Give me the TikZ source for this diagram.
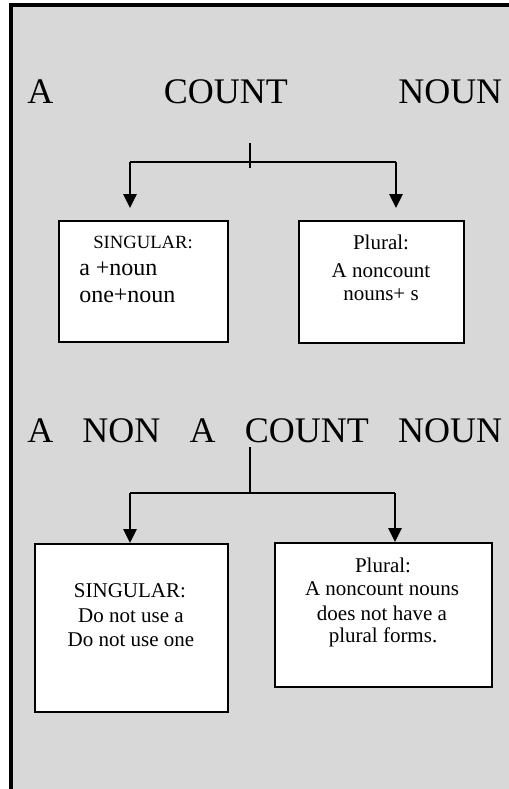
\documentclass[tikz,border=0pt]{standalone}
\usepackage{fontspec}
\setmainfont{Liberation Serif}
\usetikzlibrary{arrows.meta}
\definecolor{bggray}{RGB}{216,216,216}
\tikzset{
  box/.style={draw=black, fill=white, line width=1.5pt, anchor=north west, inner sep=0pt},
  conn/.style={line width=1.5pt},
  arr/.style={line width=1.5pt, -{Triangle[width=10pt,length=10.5pt]}},
  title/.style={anchor=base west, inner sep=0pt, font=\fontsize{27}{32}\selectfont},
  big/.style={inner sep=0pt, font=\fontsize{18}{21}\selectfont},
  mid/.style={inner sep=0pt, font=\fontsize{15.75}{19}\selectfont},
  small/.style={inner sep=0pt, font=\fontsize{14}{17}\selectfont}
}
\begin{document}
\begin{tikzpicture}[x=0.75pt, y=-0.75pt]
\useasboundingbox (0,0) rectangle (509,789);
\fill[white] (0,0) rectangle (509,789);
\fill[bggray] (11,5) rectangle (520,800);
\draw[line width=3pt] (11,800) -- (11,5) -- (520,5);

% ---------- first part ----------
\node[title] (t1) at (27,103) {\makebox[356.25pt]{A\hfill COUNT\hfill NOUN}};
\coordinate (k1a) at (250,143);
\coordinate (k1b) at (250,168);
\coordinate (j1l) at (130,162);
\coordinate (j1r) at (396,162);

\node[box, minimum width={169*0.75pt}, minimum height={121*0.75pt}] (b1) at (58,220) {};
\node[box, minimum width={165*0.75pt}, minimum height={122*0.75pt}] (b2) at (298,220) {};

\draw[conn] (k1a) -- (k1b);
\draw[conn] (j1l) -- (j1r);
\draw[arr, shorten >=9pt] (j1l) -- (j1l |- b1.north);
\draw[arr, shorten >=9pt] (j1r) -- (j1r |- b2.north);

\node[small, anchor=base west] (b1a) at (93,248) {SINGULAR:};
\node[big, anchor=base west] (b1b) at (79,275) {a +noun};
\node[big, anchor=base west] (b1c) at (79,302) {one+noun};

\node[mid, anchor=base] (b2a) at (381,249) {Plural:};
\node[mid, anchor=base] (b2b) at (381,277) {A noncount};
\node[mid, anchor=base] (b2c) at (381,300) {nouns+ s};

% ---------- second part ----------
\node[title] (t2) at (27,442) {\makebox[356.25pt]{A\hfill NON\hfill A\hfill COUNT\hfill NOUN}};
\coordinate (k2a) at (250,447);
\coordinate (j2m) at (250,493);
\coordinate (j2l) at (130,493);
\coordinate (j2r) at (395,493);

\node[box, minimum width={193*0.75pt}, minimum height={168*0.75pt}] (b3) at (34,543) {};
\node[box, minimum width={217*0.75pt}, minimum height={144*0.75pt}] (b4) at (274,542) {};

\draw[conn] (k2a) -- (j2m);
\draw[conn] (j2l) -- (j2r);
\draw[arr] (j2l) -- (j2l |- b3.north);
\draw[arr] (j2r) -- (j2r |- b4.north);

\node[mid, anchor=base] (b3a) at (130,597) {SINGULAR:};
\node[mid, anchor=base] (b3b) at (131,622) {Do not use a};
\node[mid, anchor=base] (b3c) at (131,646) {Do not use one};

\node[mid, anchor=base] (b4a) at (383,572) {Plural:};
\node[mid, anchor=base] (b4b) at (382,595) {A noncount nouns};
\node[mid, anchor=base] (b4c) at (382,620) {does not have a};
\node[mid, anchor=base] (b4d) at (383,642) {plural forms.};
\end{tikzpicture}
\end{document}
